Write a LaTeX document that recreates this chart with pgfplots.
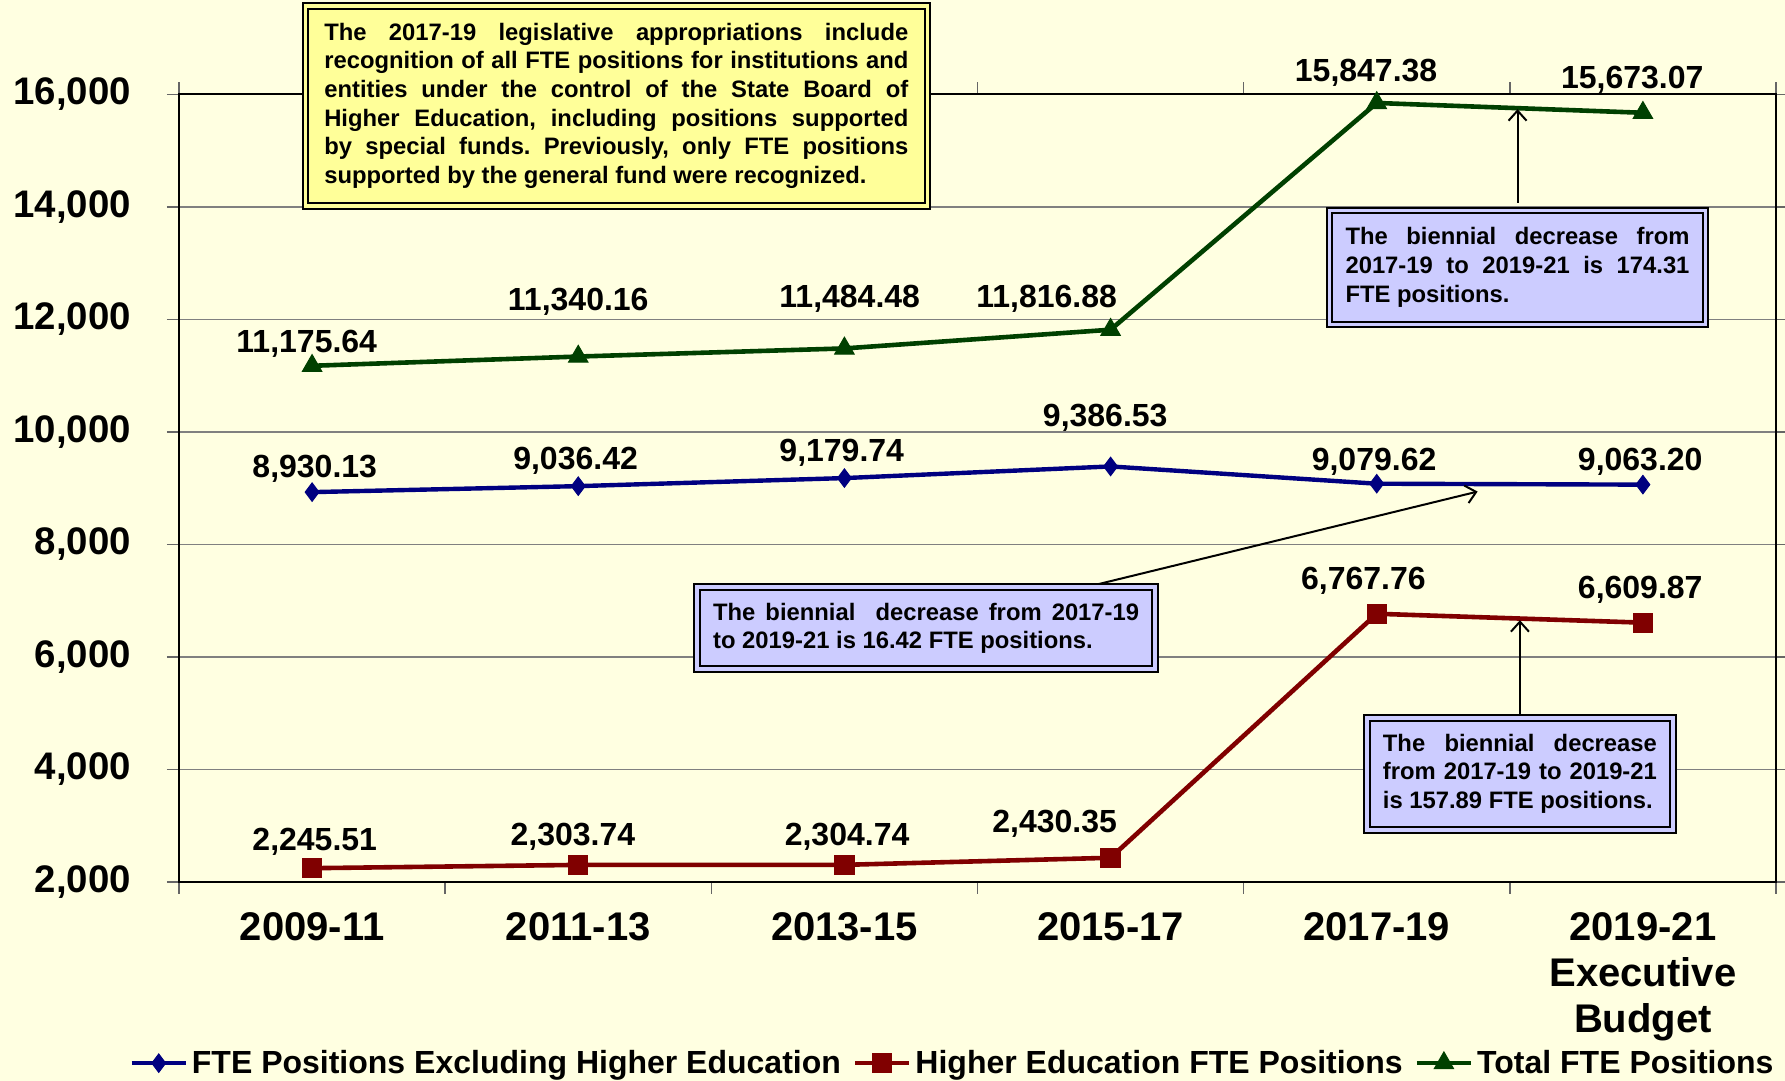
\documentclass[border=0pt]{standalone}
\usepackage{fontspec}
\setmainfont{Liberation Sans}
\usepackage{pgfplots}
\pgfplotsset{compat=1.18}
\usetikzlibrary{arrows.meta,backgrounds}
\definecolor{bg}{RGB}{255,255,225}
\definecolor{cblue}{RGB}{0,0,128}
\definecolor{cred}{RGB}{128,0,0}
\definecolor{cgreen}{RGB}{0,64,0}
\definecolor{yfill}{RGB}{255,255,153}
\definecolor{lav}{RGB}{204,204,255}
\frenchspacing
\tikzset{
  dlab/.style={font=\bfseries\fontsize{16}{16}\selectfont, anchor=center, inner sep=0pt},
  note/.style={draw=black, line width=1pt, double=#1, double distance=1.8pt, fill=#1,
     align=justify, font=\bfseries\fontsize{11.9}{14.3}\selectfont, inner xsep=8pt, inner ysep=4pt},
  arr/.style={black, line width=1pt, -{Straight Barb[length=5pt,width=9pt]}}
}
\begin{document}
\begin{tikzpicture}
\begin{axis}[
  name=ax, at={(0,0)}, anchor=south west,
  width=798.5pt, height=393.8pt, scale only axis,
  xmin=-0.5, xmax=5.5, ymin=2000, ymax=16000,
  clip=false,
  axis line style={black, line width=1pt},
  xtick={0,1,2,3,4,5},
  xticklabels={2009-11,2011-13,2013-15,2015-17,2017-19,{2019-21\\Executive\\Budget}},
  x tick label style={align=center, font=\bfseries\fontsize{20}{22.8}\selectfont, anchor=north, yshift=-6pt},
  major x tick style={draw=none},
  minor xtick={-0.5,0.5,1.5,2.5,3.5,4.5,5.5},
  minor tick length=6pt, major tick length=6pt,
  tick align=outside,
  tick style={black!60, line width=0.8pt},
  ytick={2000,4000,6000,8000,10000,12000,14000,16000},
  scaled y ticks=false,
  /pgf/number format/1000 sep={,},
  /pgf/number format/assume math mode=true,
  y tick label style={font=\bfseries\fontsize{19.2}{23}\selectfont, xshift=-14.5pt},
  ymajorgrids, grid style={black!50, line width=0.75pt},
  legend style={at={(0.485,-0.23)}, anchor=center, draw=none, fill=none,
     font=\bfseries\fontsize{16}{18}\selectfont,
     /tikz/every even column/.append style={column sep=4pt}},
  legend columns=-1,
  legend image code/.code={\draw[mark repeat=2,mark phase=2,#1] plot coordinates {(0pt,0pt) (13.5pt,0pt) (27pt,0pt)};},
]
\addplot[cblue, line width=2.2pt, mark=diamond*, mark size=4.6pt, mark options={solid, fill=cblue, draw=cblue, line width=0.5pt}]
  coordinates {(0,8930.13) (1,9036.42) (2,9179.74) (3,9386.53) (4,9079.62) (5,9063.20)};
\addlegendentry{FTE Positions Excluding Higher Education}
\addplot[cred, line width=2.3pt, mark=square*, mark size=4.8pt, mark options={solid, fill=cred, draw=cred, line width=0.5pt}]
  coordinates {(0,2245.51) (1,2303.74) (2,2304.74) (3,2430.35) (4,6767.76) (5,6609.87)};
\addlegendentry{Higher Education FTE Positions}
\addplot[cgreen, line width=2.3pt, mark=triangle*, mark size=5.6pt, mark options={solid, fill=cgreen, draw=cgreen, line width=0.5pt}]
  coordinates {(0,11175.64) (1,11340.16) (2,11484.48) (3,11816.88) (4,15847.38) (5,15673.07)};
\addlegendentry{Total FTE Positions}

% data labels
\node[dlab] at (axis cs:-0.02,11570) {11,175.64};
\node[dlab] at (axis cs:1.0,12318) {11,340.16};
\node[dlab] at (axis cs:2.02,12359) {11,484.48};
\node[dlab] at (axis cs:2.76,12359) {11,816.88};
\node[dlab] at (axis cs:3.96,16384) {15,847.38};
\node[dlab] at (axis cs:4.96,16263) {15,673.07};
\node[dlab] at (axis cs:0.01,9344) {8,930.13};
\node[dlab] at (axis cs:0.99,9486) {9,036.42};
\node[dlab] at (axis cs:1.99,9628) {9,179.74};
\node[dlab] at (axis cs:2.98,10255) {9,386.53};
\node[dlab] at (axis cs:3.99,9466) {9,079.62};
\node[dlab] at (axis cs:4.99,9466) {9,063.20};
\node[dlab] at (axis cs:0.01,2709) {2,245.51};
\node[dlab] at (axis cs:0.98,2810) {2,303.74};
\node[dlab] at (axis cs:2.01,2810) {2,304.74};
\node[dlab] at (axis cs:2.79,3033) {2,430.35};
\node[dlab] at (axis cs:3.95,7362) {6,767.76};
\node[dlab] at (axis cs:4.99,7200) {6,609.87};

% arrows
\draw[arr] (axis cs:4.529,14078) -- (axis cs:4.529,15737);
\draw[arr] (axis cs:2.872,7200) -- (axis cs:4.379,8940);
\draw[arr] (axis cs:4.538,4874) -- (axis cs:4.538,6654);

% notes
\node[note=yfill, text width=292pt, inner xsep=9.5pt, minimum height=100pt] at (axis cs:1.143,15798)
 {\spaceskip=.278em plus 2em minus .06em The 2017-19 legislative appropriations include\linebreak
  recognition of all FTE positions for institutions and\linebreak
  entities under the control of the State Board of\linebreak
  Higher Education, including positions supported\linebreak
  by special funds. Previously, only FTE positions\linebreak
  supported by the general fund were recognized.};
\node[note=lav, text width=172pt, minimum height=57pt] at (axis cs:4.529,12925)
 {\spaceskip=.278em plus 2em minus .06em The biennial decrease from\linebreak
  2017-19 to 2019-21 is 174.31\linebreak FTE positions.};
\node[note=lav, text width=213pt, minimum height=41pt] at (axis cs:2.307,6512)
 {\spaceskip=.278em plus 2em minus .06em The biennial \ decrease from 2017-19\linebreak
  to 2019-21 is 16.42 FTE positions.};
\node[note=lav, text width=137pt, minimum height=56pt] at (axis cs:4.538,3923)
 {\spaceskip=.278em plus 2em minus .06em The biennial decrease\linebreak
  from 2017-19 to 2019-21\linebreak is 157.89 FTE positions.};
\end{axis}
\begin{scope}[on background layer]
\fill[bg] (-89.5pt,-99.5pt) rectangle (803pt,441pt);
\end{scope}
\pgfresetboundingbox
\useasboundingbox (-89.5pt,-99.5pt) rectangle (803pt,441pt);
\end{tikzpicture}
\end{document}
